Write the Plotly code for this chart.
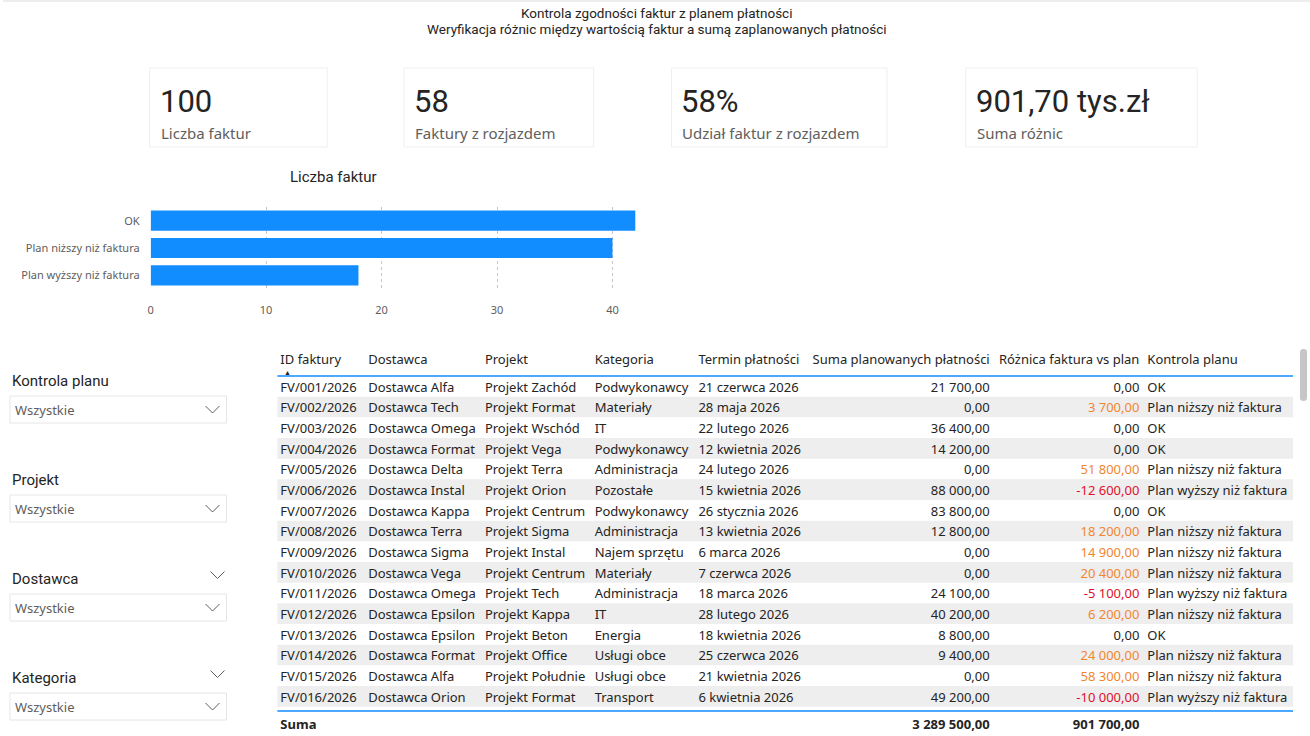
import plotly.graph_objects as go

W, H = 1310, 736

# ---------------- data ----------------
title_text = "Kontrola zgodności faktur z planem płatności"
subtitle_text = "Weryfikacja różnic między wartością faktur a sumą zaplanowanych płatności"

kpi_values = ["100", "58", "58%", "901,70 tys.zł"]
kpi_labels = ["Liczba faktur", "Faktury z rozjazdem", "Udział faktur z rozjazdem", "Suma różnic"]

bar_title = "Liczba faktur"
bar_categories = ["OK", "Plan niższy niż faktura", "Plan wyższy niż faktura"]
bar_counts = [42, 40, 18]
bar_ticks = [0, 10, 20, 30, 40]

slicer_labels = ["Kontrola planu", "Projekt", "Dostawca", "Kategoria"]
slicer_value = "Wszystkie"

table_headers = ["ID faktury", "Dostawca", "Projekt", "Kategoria", "Termin płatności",
                 "Suma planowanych płatności", "Różnica faktura vs plan", "Kontrola planu"]
id_faktury = ["FV/001/2026", "FV/002/2026", "FV/003/2026", "FV/004/2026", "FV/005/2026",
              "FV/006/2026", "FV/007/2026", "FV/008/2026", "FV/009/2026", "FV/010/2026",
              "FV/011/2026", "FV/012/2026", "FV/013/2026", "FV/014/2026", "FV/015/2026",
              "FV/016/2026"]
dostawca = ["Dostawca Alfa", "Dostawca Tech", "Dostawca Omega", "Dostawca Format", "Dostawca Delta",
            "Dostawca Instal", "Dostawca Kappa", "Dostawca Terra", "Dostawca Sigma", "Dostawca Vega",
            "Dostawca Omega", "Dostawca Epsilon", "Dostawca Epsilon", "Dostawca Format", "Dostawca Alfa",
            "Dostawca Orion"]
projekt = ["Projekt Zachód", "Projekt Format", "Projekt Wschód", "Projekt Vega", "Projekt Terra",
           "Projekt Orion", "Projekt Centrum", "Projekt Sigma", "Projekt Instal", "Projekt Centrum",
           "Projekt Tech", "Projekt Kappa", "Projekt Beton", "Projekt Office", "Projekt Południe",
           "Projekt Format"]
kategoria = ["Podwykonawcy", "Materiały", "IT", "Podwykonawcy", "Administracja",
             "Pozostałe", "Podwykonawcy", "Administracja", "Najem sprzętu", "Materiały",
             "Administracja", "IT", "Energia", "Usługi obce", "Usługi obce",
             "Transport"]
termin = ["21 czerwca 2026", "28 maja 2026", "22 lutego 2026", "12 kwietnia 2026", "24 lutego 2026",
          "15 kwietnia 2026", "26 stycznia 2026", "13 kwietnia 2026", "6 marca 2026", "7 czerwca 2026",
          "18 marca 2026", "28 lutego 2026", "18 kwietnia 2026", "25 czerwca 2026", "21 kwietnia 2026",
          "6 kwietnia 2026"]
suma_plan = [21700, 0, 36400, 14200, 0, 88000, 83800, 12800, 0, 0, 24100, 40200, 8800, 9400, 0, 49200]
roznica = [0, 3700, 0, 0, 51800, -12600, 0, 18200, 14900, 20400, -5100, 6200, 0, 24000, 58300, -10000]
kontrola = ["OK", "Plan niższy niż faktura", "OK", "OK", "Plan niższy niż faktura",
            "Plan wyższy niż faktura", "OK", "Plan niższy niż faktura", "Plan niższy niż faktura",
            "Plan niższy niż faktura", "Plan wyższy niż faktura", "Plan niższy niż faktura", "OK",
            "Plan niższy niż faktura", "Plan niższy niż faktura", "Plan wyższy niż faktura"]
total_label = "Suma"
total_suma_plan = 3289500
total_roznica = 901700

# ---------------- styles ----------------
DARK = "#252423"
GRAY = "#605E5C"
BLUE = "#118DFF"
ORANGE = "#F2862F"
RED = "#E0102A"
STRIPE = "#EEEEEE"
FONT = "Noto Sans"
DIN = "Roboto"


def fmt_pl(v):
    s = f"{abs(v):,.2f}".replace(",", " ").replace(".", ",")
    return ("-" if v < 0 else "") + s


fig = go.Figure()

# ---------- bar chart ----------
fig.add_trace(go.Bar(
    x=bar_counts, y=bar_categories, orientation="h",
    marker=dict(color=BLUE, line=dict(width=0)), width=0.74,
    xaxis="x", yaxis="y", hoverinfo="skip", showlegend=False))

# ---------- table (pixel overlay axes) ----------
row_h = 20.67
row0 = 386.3
header_y = 359
tbl_x0, tbl_x1 = 275, 1293
text_dy = 2
row_y = [row0 + i * row_h for i in range(len(id_faktury))]

stripe_y = [y for i, y in enumerate(row_y) if i % 2 == 1]
fig.add_trace(go.Bar(
    x=[tbl_x1 - tbl_x0] * len(stripe_y), y=stripe_y, base=tbl_x0, orientation="h",
    width=row_h, marker=dict(color=STRIPE, line=dict(width=0)),
    xaxis="x2", yaxis="y2", hoverinfo="skip", showlegend=False))

columns = [
    (id_faktury, 278, "left"),
    (dostawca, 366, "left"),
    (projekt, 483, "left"),
    (kategoria, 593, "left"),
    (termin, 697, "left"),
    ([fmt_pl(v) for v in suma_plan], 989, "right"),
    ([fmt_pl(v) for v in roznica], 1139, "right"),
    (kontrola, 1147, "left"),
]
diff_colors = [ORANGE if v > 0 else (RED if v < 0 else DARK) for v in roznica]

for ci, (vals, xa, al) in enumerate(columns):
    colors = diff_colors if ci == 6 else DARK
    fig.add_trace(go.Scatter(
        x=[xa] * len(vals), y=[y + text_dy for y in row_y], text=vals, mode="text",
        textposition="middle right" if al == "left" else "middle left",
        textfont=dict(family=FONT, size=13, color=colors),
        xaxis="x2", yaxis="y2", hoverinfo="skip", showlegend=False, cliponaxis=False))
    fig.add_trace(go.Scatter(
        x=[xa], y=[header_y + text_dy], text=[table_headers[ci]], mode="text",
        textposition="middle right" if al == "left" else "middle left",
        textfont=dict(family=FONT, size=13, color=DARK),
        xaxis="x2", yaxis="y2", hoverinfo="skip", showlegend=False, cliponaxis=False))

total_y = 724
fig.add_trace(go.Scatter(
    x=[278, 989, 1139], y=[total_y + text_dy] * 3,
    text=[total_label, fmt_pl(total_suma_plan), fmt_pl(total_roznica)],
    mode="text", textposition=["middle right", "middle left", "middle left"],
    textfont=dict(family=FONT, size=13, color=DARK, weight="bold"),
    xaxis="x2", yaxis="y2", hoverinfo="skip", showlegend=False, cliponaxis=False))

shapes = []
annotations = []


def ann(x, y, text, size, color=DARK, family=FONT, xanchor="left", weight="normal"):
    annotations.append(dict(x=x, y=y, xref="x2", yref="y2", text=text, showarrow=False,
                            xanchor=xanchor, yanchor="middle", borderpad=0,
                            font=dict(family=family, size=size, color=color, weight=weight)))


# header lines
shapes.append(dict(type="line", xref="x2", yref="y2", x0=tbl_x0, x1=tbl_x1, y0=376, y1=376,
                   line=dict(color=BLUE, width=1.5)))
shapes.append(dict(type="line", xref="x2", yref="y2", x0=tbl_x0, x1=tbl_x1, y0=711, y1=711,
                   line=dict(color=BLUE, width=1.5)))
ann(281, 372, "▲", 7, DARK)

# scrollbar
sx0, sx1, sy0, sy1 = 1300, 1307, 349, 401
shapes.append(dict(type="path", xref="x2", yref="y2",
                   path=f"M {sx0} {sy0+3} Q {sx0} {sy0} {(sx0+sx1)/2} {sy0} Q {sx1} {sy0} {sx1} {sy0+3} "
                        f"L {sx1} {sy1-3} Q {sx1} {sy1} {(sx0+sx1)/2} {sy1} Q {sx0} {sy1} {sx0} {sy1-3} Z",
                   fillcolor="#C6C6C6", line=dict(width=0)))

# title
ann(655, 13, title_text, 13.5, DARK, DIN, "center")
ann(655, 29, subtitle_text, 13.5, DARK, DIN, "center")
shapes.append(dict(type="rect", xref="x2", yref="y2", x0=0, x1=W, y0=0, y1=2,
                   fillcolor="#EDEDED", line=dict(width=0)))

# KPI cards
cards = [(147, 325), (402, 592), (670, 886), (965, 1197)]
for (cx0, cx1), v, lab in zip(cards, kpi_values, kpi_labels):
    shapes.append(dict(type="rect", xref="x2", yref="y2", x0=cx0, x1=cx1, y0=68, y1=147,
                       line=dict(color="#EFEFEF", width=1), fillcolor="rgba(0,0,0,0)"))
    ann(cx0 + 9, 101, v, 31, DARK, DIN)
    ann(cx0 + 10, 133, lab, 15, GRAY, FONT)

# bar chart title
ann(287, 177, bar_title, 15, DARK, DIN)

# slicers
def chevron(cx, cy, w=7, h=3.5):
    shapes.append(dict(type="path", xref="x2", yref="y2",
                       path=f"M {cx-w} {cy-h} L {cx} {cy+h} L {cx+w} {cy-h}",
                       line=dict(color=GRAY, width=1)))


for i, lab in enumerate(slicer_labels):
    ly = 381 + i * 99
    by0 = ly + 15
    by1 = by0 + 27
    ann(8, ly, lab, 15, DARK, DIN)
    shapes.append(dict(type="rect", xref="x2", yref="y2", x0=7, x1=224, y0=by0, y1=by1,
                       line=dict(color="#E6E6E6", width=1), fillcolor="white"))
    ann(11, (by0 + by1) / 2, slicer_value, 13, GRAY, FONT)
    chevron(210, (by0 + by1) / 2)
    if i >= 2:
        chevron(215, ly - 4)

fig.update_layout(
    width=W, height=H, margin=dict(l=0, r=0, t=0, b=0),
    paper_bgcolor="white", plot_bgcolor="rgba(0,0,0,0)",
    showlegend=False, hovermode=False, barmode="overlay",
    xaxis=dict(domain=[148 / W, 634 / W], anchor="y", range=[0, 42], tickvals=bar_ticks,
               showgrid=True, gridcolor="#C8C6C4", griddash="dot", gridwidth=1,
               zeroline=False, showline=False, ticks="",
               tickfont=dict(family=FONT, size=11, color=GRAY), ticklabelstandoff=13,
               fixedrange=True),
    yaxis=dict(domain=[1 - 289 / H, 1 - 207 / H], anchor="x", autorange="reversed",
               categoryorder="array", categoryarray=bar_categories,
               showgrid=False, zeroline=False, showline=False, ticks="",
               tickfont=dict(family=FONT, size=11, color=GRAY), ticklabelstandoff=10,
               fixedrange=True),
    xaxis2=dict(domain=[0, 1], anchor="y2", range=[0, W], visible=False, fixedrange=True),
    yaxis2=dict(domain=[0, 1], anchor="x2", range=[H, 0], visible=False, fixedrange=True),
    shapes=shapes, annotations=annotations,
)

fig.write_html("out.html", config={"displayModeBar": False},
               post_script="document.body.style.margin='0px';document.body.style.overflow='hidden';")
